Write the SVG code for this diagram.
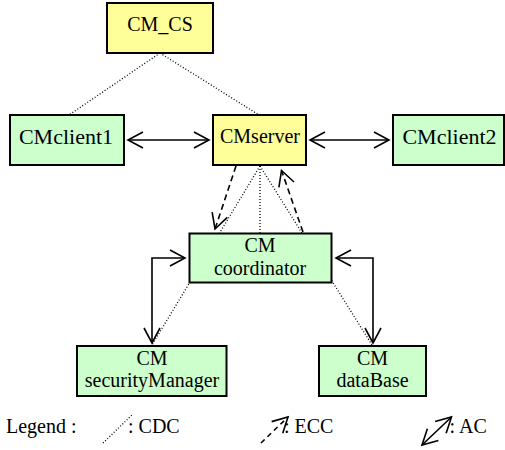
<svg xmlns="http://www.w3.org/2000/svg" width="505" height="450" viewBox="0 0 505 450" font-family="Liberation Serif, serif" font-size="20">
<style>
.box{stroke:#000;stroke-width:2}
.y{fill:#ffff99}
.g{fill:#ccffcc}
.c{text-anchor:middle}
.cdc{fill:none;stroke:#000;stroke-width:1.3;stroke-dasharray:1 2}
.ecc{fill:none;stroke:#000;stroke-width:1.6;stroke-dasharray:6 4;marker-end:url(#ah)}
.ac{fill:none;stroke:#000;stroke-width:1.6;marker-start:url(#ah);marker-end:url(#ah)}
</style>
<defs>
<marker id="ah" markerUnits="userSpaceOnUse" viewBox="-18 -11 20 22" markerWidth="20" markerHeight="22" refX="0" refY="0" orient="auto-start-reverse">
<path d="M-15,-8 L0,0 L-15,8" fill="none" stroke="#000" stroke-width="1.6"/>
</marker>
</defs>
<rect width="505" height="450" fill="#fff"/>
<g id="connectors">
<line class="cdc" x1="160" y1="53" x2="69" y2="115"/>
<line class="cdc" x1="160" y1="53" x2="259" y2="115"/>
<line class="cdc" x1="260" y1="166" x2="260" y2="233"/>
<line class="cdc" x1="260" y1="166" x2="152" y2="345"/>
<line class="cdc" x1="260" y1="166" x2="372" y2="345"/>
<line class="ac" x1="128" y1="140" x2="209" y2="140"/>
<line class="ac" x1="310" y1="140" x2="389" y2="140"/>
<polyline class="ac" points="185,258 152,258 152,343"/>
<polyline class="ac" points="336,258 373,258 373,343"/>
<line class="ecc" x1="236" y1="166" x2="215" y2="229"/>
<line class="ecc" x1="303" y1="232" x2="281.5" y2="170.5"/>
</g>
<g id="CM_CS"><rect class="box y" x="107" y="3" width="106" height="50"/><text class="c" x="160" y="31">CM_CS</text></g>
<g id="CMclient1"><rect class="box g" x="10" y="115" width="114" height="50"/><text class="c" x="66" y="144" font-size="22">CMclient1</text></g>
<g id="CMserver"><rect class="box y" x="213" y="115" width="93" height="50"/><text class="c" x="260" y="143">CMserver</text></g>
<g id="CMclient2"><rect class="box g" x="393" y="115" width="111" height="50"/><text class="c" x="449.5" y="144" font-size="22">CMclient2</text></g>
<g id="CMcoordinator"><rect class="box g" x="189.5" y="233.5" width="142" height="49"/><text class="c" x="260" y="252">CM</text><text class="c" x="260" y="275">coordinator</text></g>
<g id="CMsecurityManager"><rect class="box g" x="77" y="346" width="149.5" height="50"/><text class="c" x="152" y="365">CM</text><text class="c" x="152" y="387">securityManager</text></g>
<g id="CMdataBase"><rect class="box g" x="319" y="346" width="107" height="50"/><text class="c" x="372.5" y="365">CM</text><text class="c" x="372.5" y="387">dataBase</text></g>
<g id="legend">
<text x="6" y="433">Legend :</text>
<line class="cdc" x1="103" y1="443" x2="133" y2="414"/>
<text x="128" y="433">: CDC</text>
<line class="ecc" x1="261" y1="443" x2="288" y2="417" style="stroke-dasharray:5 4"/>
<text x="284" y="433">: ECC</text>
<line class="ac" x1="422" y1="445" x2="451.5" y2="417"/>
<text x="449.5" y="433">: AC</text>
</g>
</svg>
